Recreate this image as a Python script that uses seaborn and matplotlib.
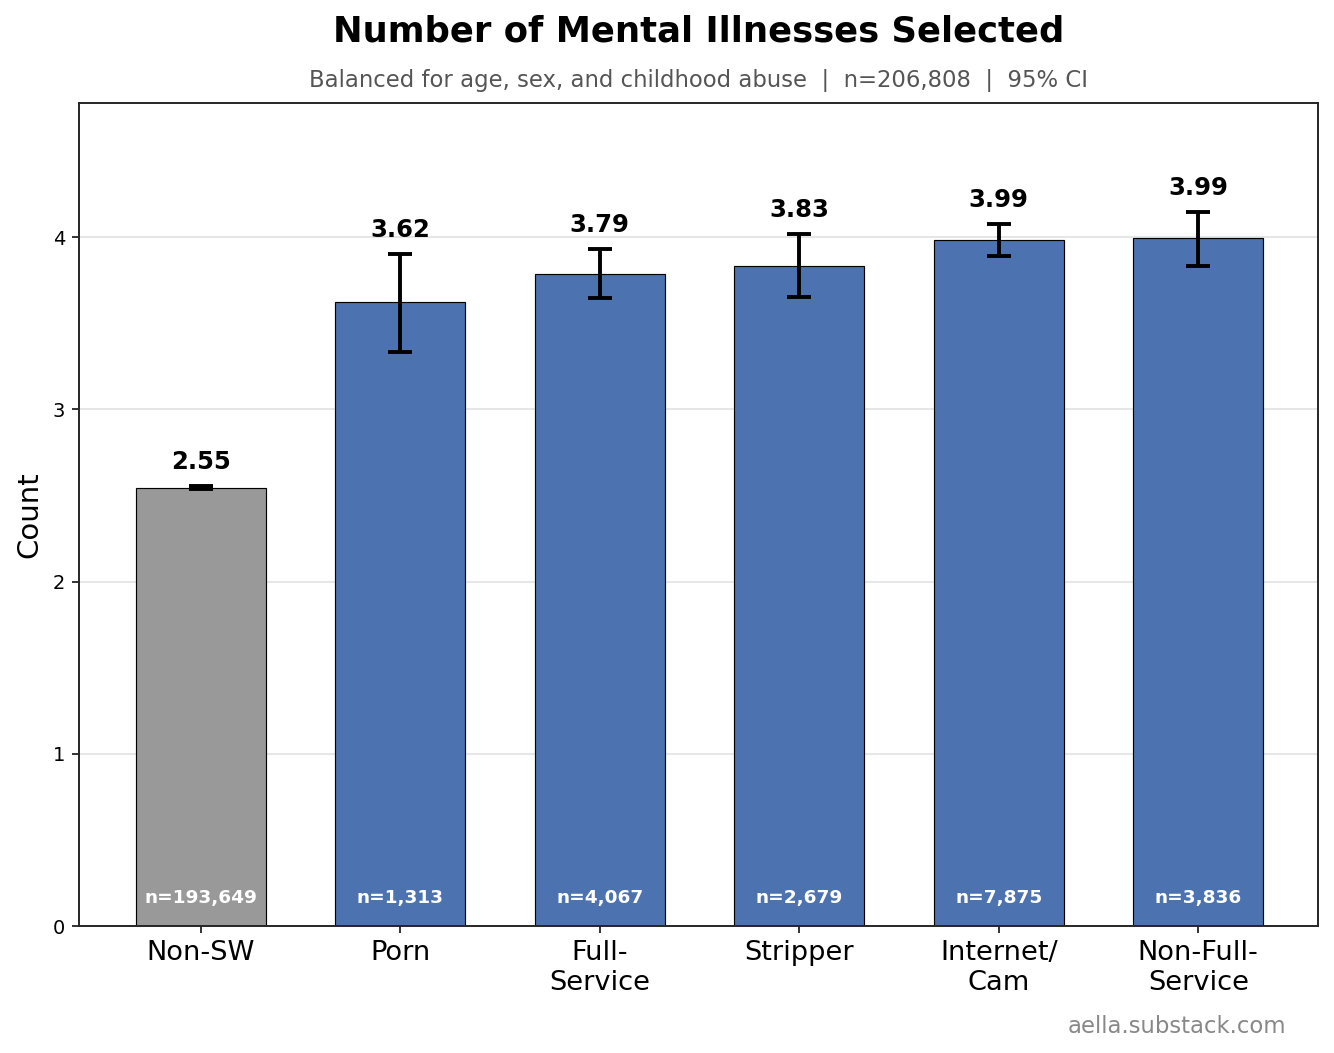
import matplotlib
matplotlib.use("Agg")
import matplotlib.pyplot as plt
import numpy as np
import seaborn as sns

# data
groups = ['Non-SW', 'Porn', 'Full-\nService', 'Stripper', 'Internet/\nCam', 'Non-Full-\nService']
means = [2.546, 3.623, 3.789, 3.832, 3.987, 3.993]
ci_low = [2.539, 3.332, 3.646, 3.652, 3.892, 3.836]
ci_high = [2.553, 3.905, 3.932, 4.017, 4.075, 4.149]
n_counts = [193649, 1313, 4067, 2679, 7875, 3836]
bar_colors = ['#999999', '#4C72B0', '#4C72B0', '#4C72B0', '#4C72B0', '#4C72B0']

sns.set_style('ticks')
plt.rcParams['font.family'] = ['DejaVu Sans']
plt.rcParams['axes.edgecolor'] = '#262626'
plt.rcParams['axes.linewidth'] = 1.0

fig = plt.figure(figsize=(1334 / 140, 1053 / 140), dpi=140)
ax = fig.add_axes([0.0592, 0.1206, 0.9288, 0.7816])

sns.barplot(x=groups, y=means, hue=groups, palette=bar_colors, legend=False,
            width=0.65, edgecolor='black', linewidth=0.6, errorbar=None,
            saturation=1, ax=ax, zorder=2)

# confidence intervals
x_pos = np.arange(len(groups))
m = np.array(means)
yerr = np.vstack([m - np.array(ci_low), np.array(ci_high) - m])
ax.errorbar(x_pos, m, yerr=yerr, fmt='none', ecolor='black',
            elinewidth=2, capsize=6, capthick=2, zorder=3)

# value labels above the error bars and sample sizes inside the bars
for i in range(len(groups)):
    ax.text(i, ci_high[i] + 0.07, f'{means[i]:.2f}', ha='center', va='bottom',
            fontsize=12.5, fontweight='bold', color='black')
    ax.text(i, 0.16, f'n={n_counts[i]:,}', ha='center', va='center',
            fontsize=9.5, fontweight='bold', color='white', zorder=4)

ax.set_xlim(-0.61, 5.6)
ax.set_ylim(0, 4.78)
ax.set_yticks([0, 1, 2, 3, 4])
ax.yaxis.grid(True, color='#e6e6e6', linewidth=1.0, zorder=0)
ax.set_axisbelow(True)
ax.tick_params(axis='x', labelsize=14, colors='black')
ax.tick_params(axis='y', labelsize=10, colors='black')
ax.set_ylabel('Count', fontsize=15, color='black', labelpad=5)
ax.set_xlabel('')
for s in ax.spines.values():
    s.set_visible(True)

ax.text(0.5, 1.0741, 'Number of Mental Illnesses Selected', transform=ax.transAxes,
        ha='center', va='baseline', fontsize=18.2, fontweight='bold', color='black')
ax.text(0.5, 1.0194, 'Balanced for age, sex, and childhood abuse  |  n=206,808  |  95% CI',
        transform=ax.transAxes, ha='center', va='baseline', fontsize=11.7, color='#555555')
fig.text(0.964, 0.0193, 'aella.substack.com', ha='right', va='baseline',
         fontsize=11.7, color='#888888')

fig.savefig('out.png', dpi=140)
